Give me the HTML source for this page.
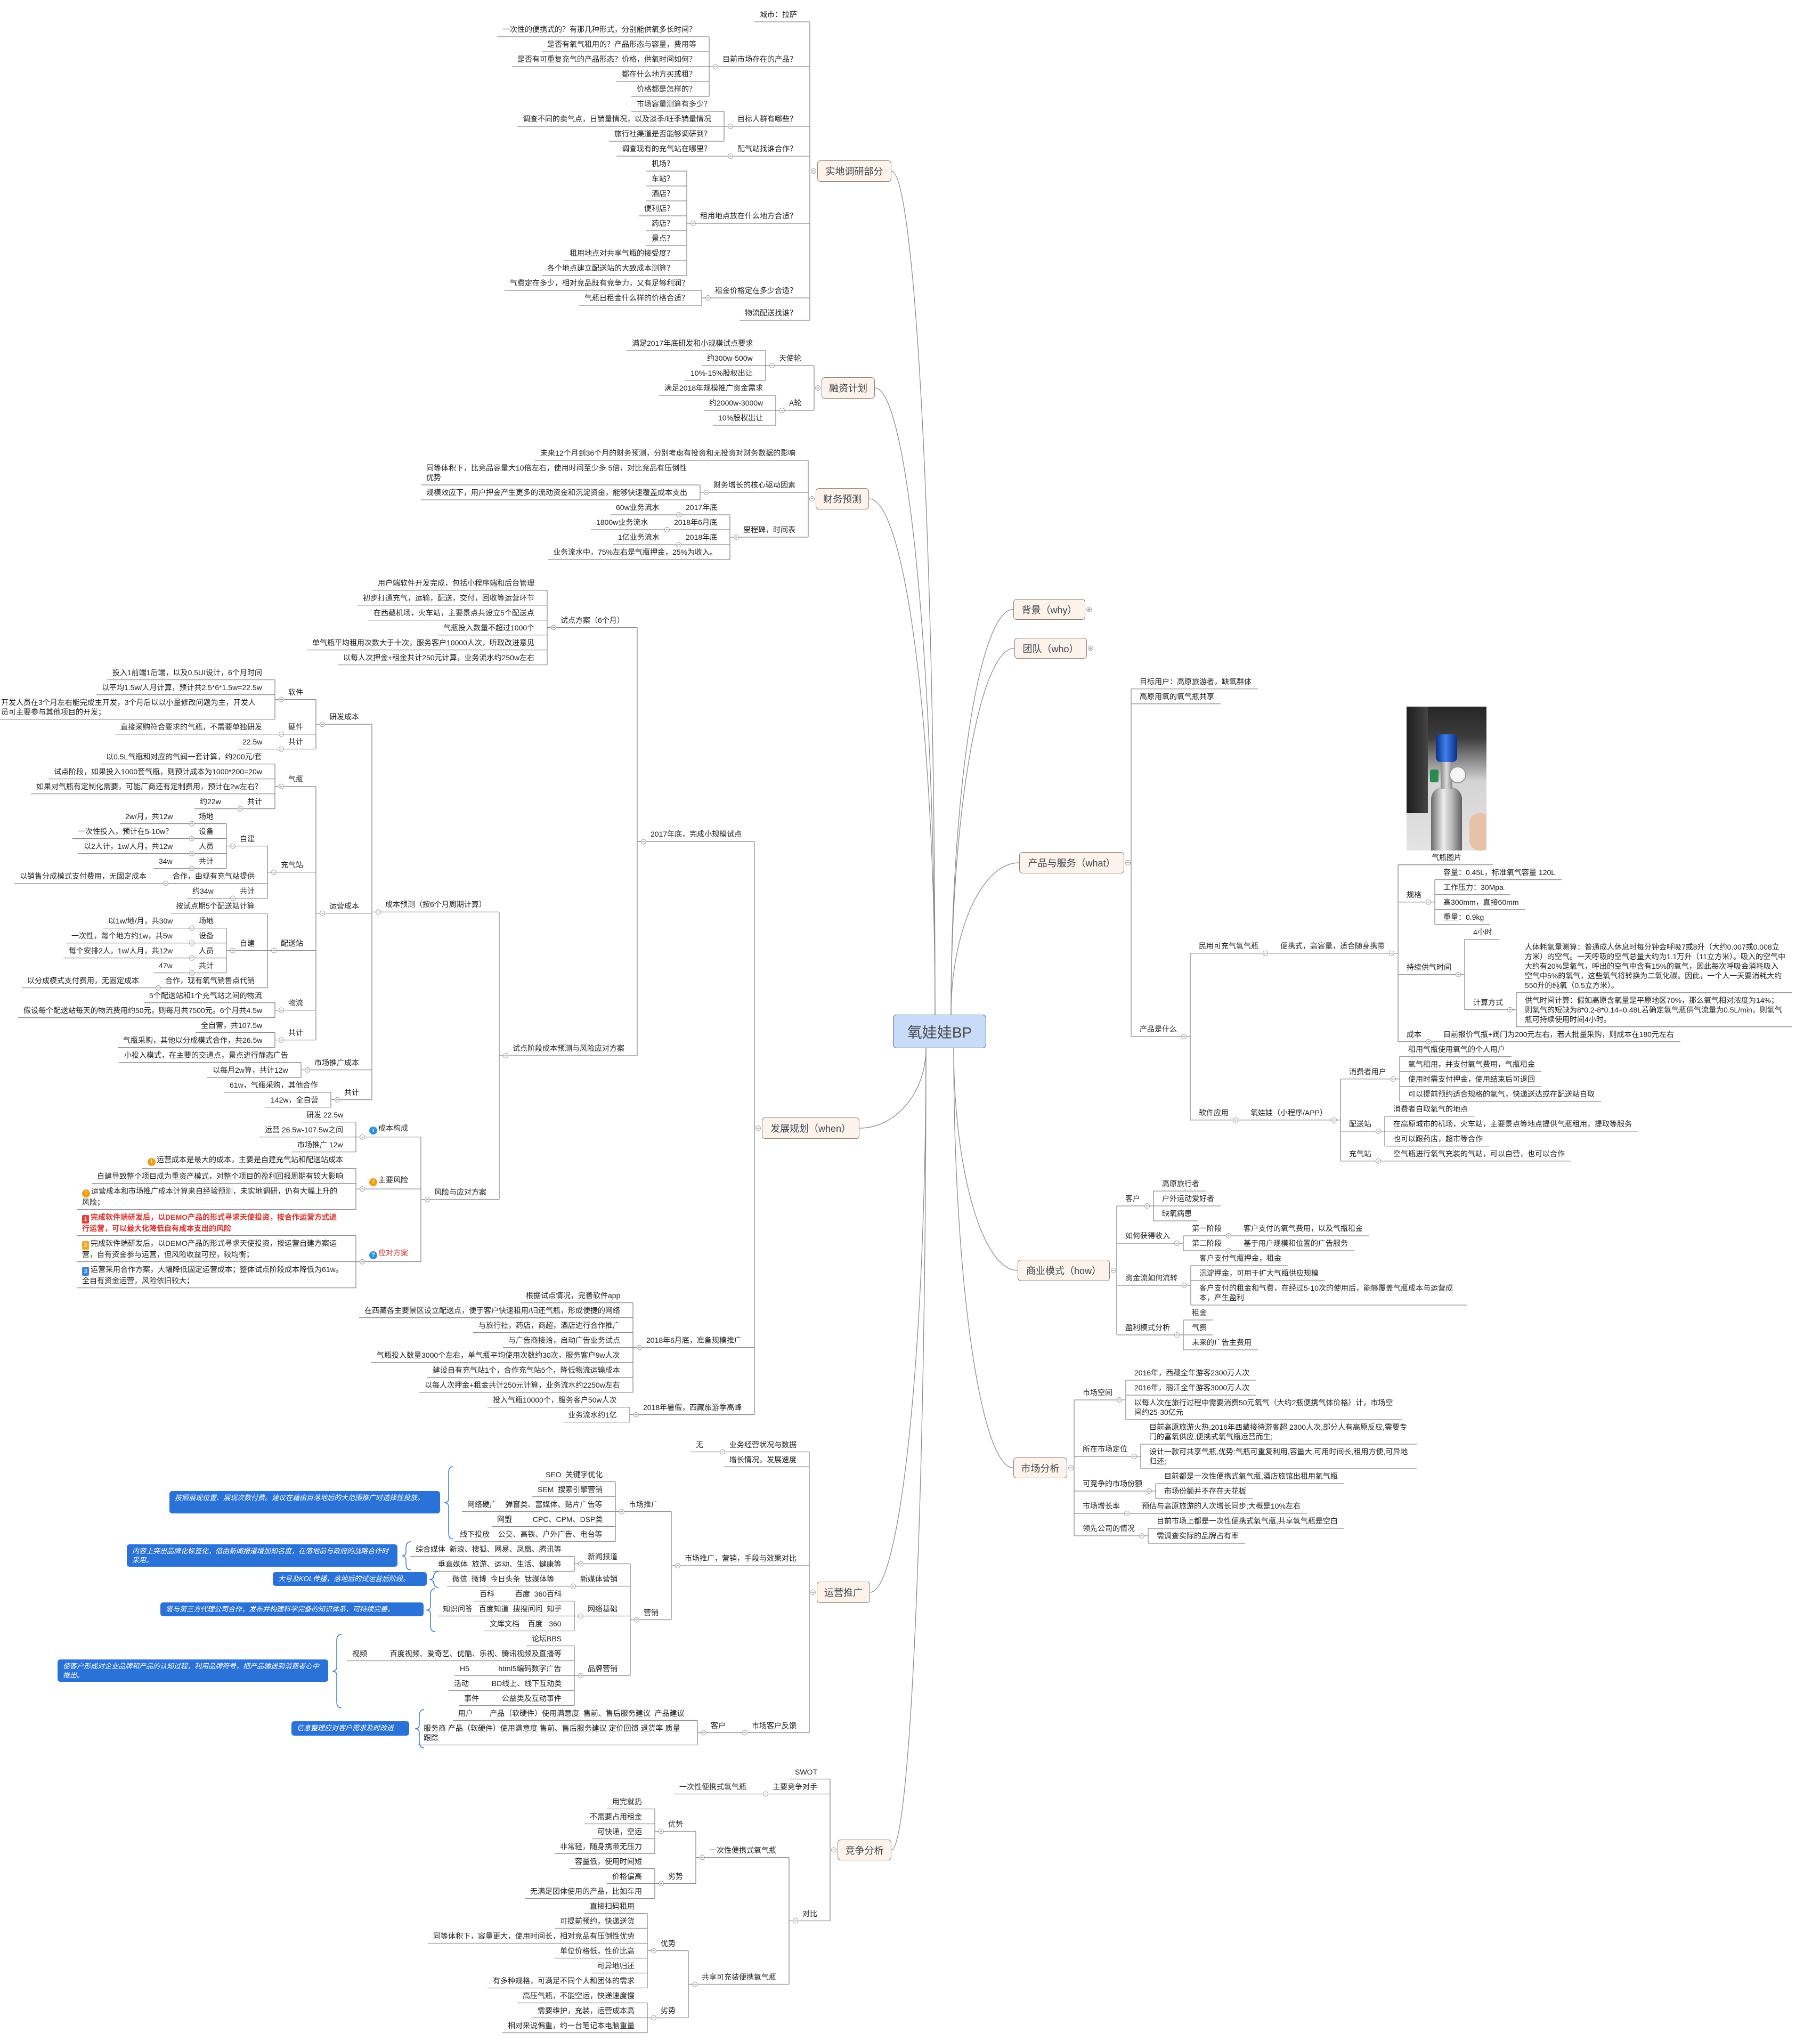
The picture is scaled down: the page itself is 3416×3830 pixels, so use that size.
<!DOCTYPE html>
<html><head><meta charset="utf-8">
<style>
body{margin:0;background:#fff}
#m{position:relative;width:3416px;height:3830px;background:#fff;overflow:hidden;font-family:"Liberation Sans","Noto Sans CJK SC",sans-serif}
#s{position:absolute;left:0;top:0}
.lb{position:absolute;left:0;top:0;font-size:14px;line-height:18px;color:#222;white-space:pre}
.bx{position:absolute;box-sizing:border-box;background:#fdf3ea;border:1.5px solid #8f8176;border-radius:6px;font-size:18px;color:#3f4652;display:flex;align-items:center;justify-content:center;white-space:nowrap}
.ctr{position:absolute;box-sizing:border-box;background:#c8dbf8;border:1.5px solid #4f6c9c;border-radius:7px;font-size:28px;color:#4a4a4a;display:flex;align-items:center;justify-content:center}
.ic{display:inline-block;width:15px;height:15px;border-radius:50%;color:#fff;font-size:11px;line-height:15px;text-align:center;font-weight:bold;margin-right:2px;vertical-align:-2px}
.ib{background:#2b8ee8}.io{background:#f39c12}
.nb{display:inline-block;width:13px;height:16px;border-radius:2px;color:#fff;font-size:11px;line-height:16px;text-align:center;margin-right:3px;vertical-align:-2px}
.co{position:absolute;box-sizing:border-box;background:#2a72d8;border-radius:5px;color:#fff;font-style:italic;font-size:13px;line-height:17px;padding:4px 10px;white-space:normal}
</style></head>
<body>
<div id="m">
<svg id="s" width="3416" height="3830" xmlns="http://www.w3.org/2000/svg"></svg>
</div>
<script>
const M=document.getElementById('m'),S=document.getElementById('s');
const NS='http://www.w3.org/2000/svg';
function sv(tag,at){const e=document.createElementNS(NS,tag);for(const k in at)e.setAttribute(k,at[k]);S.appendChild(e);return e;}
function line(x1,y1,x2,y2){sv('line',{x1,y1,x2,y2,stroke:'#8c8c8c','stroke-width':1.3});}
function circ(x,y,plus){sv('circle',{cx:x,cy:y,r:4.5,fill:'#fff',stroke:'#999','stroke-width':1});line(x-2.5,y,x+2.5,y);if(plus)line(x,y-2.5,x,y+2.5);}
const I='<span class="ic ib">i</span>',E='<span class="ic io">!</span>',Q='<span class="ic ib">?</span>';
const N1='<span class="nb" style="background:#e5423a">1</span>',N2='<span class="nb" style="background:#f5a623">2</span>',N3='<span class="nb" style="background:#3b82e0">3</span>';
const BOTTLE='<div style="width:150px;height:270px;position:relative;overflow:hidden;background:linear-gradient(#262626 0%,#3d3d3d 22%,#8e8e8e 38%,#d4d4d4 52%,#e4e4e4 100%)">'+
'<div style="position:absolute;left:0;top:0;width:40px;height:200px;background:linear-gradient(90deg,#1c1c1c,#444)"></div>'+
'<div style="position:absolute;left:46px;top:150px;width:58px;height:130px;border-radius:24px 24px 4px 4px;background:linear-gradient(90deg,#6b6b6b,#eeeeee 40%,#b0b0b0 70%,#5f5f5f)"></div>'+
'<div style="position:absolute;left:64px;top:100px;width:22px;height:55px;background:linear-gradient(90deg,#888,#ddd,#888)"></div>'+
'<div style="position:absolute;left:55px;top:52px;width:40px;height:52px;border-radius:9px;background:linear-gradient(90deg,#0b2f86,#3f7ff0 45%,#0b2f86)"></div>'+
'<div style="position:absolute;left:44px;top:118px;width:16px;height:24px;background:#2b8a4c;border-radius:3px"></div>'+
'<div style="position:absolute;left:80px;top:112px;width:28px;height:28px;border-radius:50%;background:#f5f5f5;border:2px solid #999"></div>'+
'<div style="position:absolute;left:118px;top:200px;width:40px;height:70px;border-radius:18px;background:#e8c2a8"></div></div>';

function build(n){
  let o=typeof n==='string'?{t:n,c:[]}:{t:n[0],c:(n[1]||[]).map(build)};
  let t=o.t;if(t[0]==='~'){o.wrap=1;t=t.slice(1);}if(t==='@IMG')o.img=1;o.t=t;
  const el=document.createElement('div');el.className='lb';
  if(o.img)el.innerHTML=BOTTLE+'<div style="width:150px;text-align:center;margin-top:4px">气瓶图片</div>';
  else el.innerHTML=t;
  if(o.wrap){el.style.whiteSpace='normal';el.style.width='490px';}
  M.appendChild(el);o.el=el;o.w=el.offsetWidth;o.h=el.offsetHeight;o.rh=o.h+10;return o;
}
function vl(o,top){if(!o.c.length){o.uy=top+o.rh;return o.uy;}let y=top;for(const c of o.c)y=vl(c,y);o.uy=(o.c[0].uy+o.c[o.c.length-1].uy)/2;return y;}
function sh(o,d){o.uy+=d;o.c.forEach(c=>sh(c,d));}
function hl(o,Bx,side){
  const y=o.uy;
  if(side==='R'){o.x=Bx+16;const tr=o.x+o.w;
    if(o.c.length){const bx=tr+25;line(Bx,y,bx,y);circ(tr+13,y);line(bx,o.c[0].uy,bx,o.c[o.c.length-1].uy);o.c.forEach(c=>hl(c,bx,side));}
    else line(Bx,y,tr+12,y);
  }else{const tr=Bx-24;o.x=tr-o.w;
    if(o.c.length){const bx=o.x-25;line(bx,y,Bx,y);circ(o.x-13,y);line(bx,o.c[0].uy,bx,o.c[o.c.length-1].uy);o.c.forEach(c=>hl(c,bx,side));}
    else line(o.x-10,y,Bx,y);
  }
  o.el.style.left=o.x+'px';o.el.style.top=(y-5-o.h)+'px';
}

const L=[
{t:'实地调研部分',s:'L',b:[1534,301,1673,341],c:[
 '城市：拉萨',
 ['目前市场存在的产品？',['一次性的便携式的？有那几种形式，分别能供氧多长时间？','是否有氧气租用的？产品形态与容量，费用等','是否有可重复充气的产品形态？价格，供氧时间如何？','都在什么地方买或租？','价格都是怎样的？']],
 ['目标人群有哪些？',['市场容量测算有多少？','调查不同的卖气点，日销量情况，以及淡季/旺季销量情况','旅行社渠道是否能够调研到？']],
 ['配气站找谁合作？',['调查现有的充气站在哪里？']],
 ['租用地点放在什么地方合适？',['机场？','车站？','酒店？','便利店？','药店？','景点？','租用地点对共享气瓶的接受度？','各个地点建立配送站的大致成本测算？']],
 ['租金价格定在多少合适？',['气费定在多少，相对竞品既有竞争力，又有足够利润？','气瓶日租金什么样的价格合适？']],
 '物流配送找谁？']},
{t:'融资计划',s:'L',b:[1542,708,1642,748],c:[
 ['天使轮',['满足2017年底研发和小规模试点要求','约300w-500w','10%-15%股权出让']],
 ['A轮',['满足2018年规模推广资金需求','约2000w-3000w','10%股权出让']]]},
{t:'财务预测',s:'L',b:[1531,916,1631,956],c:[
 '未来12个月到36个月的财务预测，分别考虑有投资和无投资对财务数据的影响',
 ['财务增长的核心驱动因素',['~同等体积下，比竞品容量大10倍左右，使用时间至少多 5倍，对比竞品有压倒性优势','~规模效应下，用户押金产生更多的流动资金和沉淀资金，能够快速覆盖成本支出']],
 ['里程碑，时间表',[['2017年底',['60w业务流水']],['2018年6月底',['1800w业务流水']],['2018年底',['1亿业务流水']],'业务流水中，75%左右是气瓶押金，25%为收入。']]]},
{t:'发展规划（when）',s:'L',b:[1430,2097,1613,2137],c:[
 ['2017年底，完成小规模试点',[
  ['试点方案（6个月）',['用户端软件开发完成，包括小程序端和后台管理','初步打通充气，运输，配送，交付，回收等运营环节','在西藏机场，火车站，主要景点共设立5个配送点','气瓶投入数量不超过1000个','单气瓶平均租用次数大于十次，服务客户10000人次，听取改进意见','以每人次押金+租金共计250元计算，业务流水约250w左右']],
  ['试点阶段成本预测与风险应对方案',[
   ['成本预测（按6个月周期计算）',[
    ['研发成本',[
     ['软件',['投入1前端1后端，以及0.5UI设计，6个月时间','以平均1.5w/人月计算，预计共2.5*6*1.5w=22.5w','~开发人员在3个月左右能完成主开发，3个月后以以小量修改问题为主，开发人员可主要参与其他项目的开发；']],
     ['硬件',['直接采购符合要求的气瓶，不需要单独研发']],
     ['共计',['22.5w']]]],
    ['运营成本',[
     ['气瓶',['以0.5L气瓶和对应的气阀一套计算，约200元/套','试点阶段，如果投入1000套气瓶，则预计成本为1000*200=20w','如果对气瓶有定制化需要，可能厂商还有定制费用，预计在2w左右？',['共计',['约22w']]]],
     ['充气站',[['自建',[['场地',['2w/月，共12w']],['设备',['一次性投入，预计在5-10w？']],['人员',['以2人计，1w/人月，共12w']],['共计',['34w']]]],['合作，由现有充气站提供',['以销售分成模式支付费用，无固定成本']],['共计',['约34w']]]],
     ['配送站',['按试点期5个配送站计算',['自建',[['场地',['以1w/地/月，共30w']],['设备',['一次性，每个地方约1w，共5w']],['人员',['每个安排2人，1w/人月，共12w']],['共计',['47w']]]],['合作，现有氧气销售点代销',['以分成模式支付费用，无固定成本']]]],
     ['物流',['5个配送站和1个充气站之间的物流','假设每个配送站每天的物流费用约50元，则每月共7500元。6个月共4.5w']],
     ['共计',['全自营，共107.5w','气瓶采购，其他以分成模式合作，共26.5w']]]],
    ['市场推广成本',['小投入模式，在主要的交通点，景点进行静态广告','以每月2w算，共计12w']],
    ['共计',['61w，气瓶采购，其他合作','142w，全自营']]]],
   ['风险与应对方案',[
    [I+'成本构成',['研发 22.5w','运营 26.5w-107.5w之间','市场推广 12w']],
    [E+'主要风险',[E+'运营成本是最大的成本，主要是自建充气站和配送站成本','自建导致整个项目成为重资产模式，对整个项目的盈利回报周期有较大影响','~'+E+'运营成本和市场推广成本计算来自经验预测，未实地调研，仍有大幅上升的风险；']],
    [Q+'<span style="color:#d9302c">应对方案</span>',['~'+N1+'<b style="color:#d9302c">完成软件端研发后，以DEMO产品的形式寻求天使投资，按合作运营方式进行运营，可以最大化降低自有成本支出的风险</b>','~'+N2+'完成软件端研发后，以DEMO产品的形式寻求天使投资，按运营自建方案运营，自有资金参与运营，但风险收益可控，较均衡；','~'+N3+'运营采用合作方案，大幅降低固定运营成本；整体试点阶段成本降低为61w。全自有资金运营，风险依旧较大；']]]]]]]],
 ['2018年6月底，准备规模推广',['根据试点情况，完善软件app','在西藏各主要景区设立配送点，便于客户快速租用/归还气瓶，形成便捷的网络','与旅行社，药店，商超，酒店进行合作推广','与广告商接洽，启动广告业务试点','气瓶投入数量3000个左右，单气瓶平均使用次数约30次，服务客户9w人次','建设自有充气站1个，合作充气站5个，降低物流运输成本','以每人次押金+租金共计250元计算，业务流水约2250w左右']],
 ['2018年暑假，西藏旅游季高峰',['投入气瓶10000个，服务客户50w人次','业务流水约1亿']]]},
{t:'运营推广',s:'L',b:[1533,2968,1633,3008],c:[
 ['业务经营状况与数据',['无']],
 '增长情况，发展速度',
 ['市场推广，营销，手段与效果对比',[
  ['市场推广',['SEO  关键字优化','SEM  搜索引擎营销','网络硬广    弹窗类、富媒体、贴片广告等','网盟          CPC、CPM、DSP类','线下投放    公交、高铁、户外广告、电台等']],
  ['营销',[
   ['新闻报道',['综合媒体  新浪、搜狐、网易、凤凰、腾讯等','垂直媒体  旅游、运动、生活、健康等']],
   ['新媒体营销',['微信  微博  今日头条  钛媒体等']],
   ['网络基础',['百科          百度  360百科','知识问答   百度知道  搜搜问问  知乎','文库文档    百度   360']],
   ['品牌营销',['论坛BBS','视频           百度视频、爱奇艺、优酷、乐视、腾讯视频及直播等','H5              html5编码数字广告','活动           BD线上、线下互动类','事件           公益类及互动事件']]]]]],
 ['市场客户反馈',[['客户',['用户        产品（软硬件）使用满意度  售前、售后服务建议  产品建议','~服务商      产品（软硬件）使用满意度  售前、售后服务建议  定价回馈  退货率  质量跟踪']]]]]},
{t:'竞争分析',s:'L',b:[1572,3452,1673,3491],c:[
 'SWOT',
 ['主要竞争对手',['一次性便携式氧气瓶']],
 ['对比',[
  ['一次性便携式氧气瓶',[['优势',['用完就扔','不需要占用租金','可快递，空运','非常轻，随身携带无压力']],['劣势',['容量低，使用时间短','价格偏高','无满足团体使用的产品，比如车用']]]],
  ['共享可充装便携氧气瓶',[['优势',['直接扫码租用','可提前预约，快递送货','同等体积下，容量更大，使用时间长，相对竞品有压倒性优势','单位价格低，性价比高','可异地归还','有多种规格，可满足不同个人和团体的需求']],['劣势',['高压气瓶，不能空运，快递速度慢','需要维护，充装，运营成本高','相对来说偏重，约一台笔记本电脑重量']]]]]]]},
{t:'背景（why）',s:'R',b:[1902,1124,2037,1163],c:[],col:1},
{t:'团队（who）',s:'R',b:[1904,1197,2040,1236],c:[],col:1},
{t:'产品与服务（what）',s:'R',b:[1913,1599,2110,1639],c:[
 '目标用户：高原旅游者，缺氧群体','高原用氧的氧气瓶共享',
 ['产品是什么',[
  ['民用可充气氧气瓶',[['便携式，高容量，适合随身携带',['@IMG',
    ['规格',['容量：0.45L，标准氧气容量 120L','工作压力：30Mpa','高300mm，直接60mm','重量：0.9kg']],
    ['持续供气时间',['4小时',['计算方式',['~人体耗氧量测算：普通成人休息时每分钟会呼吸7或8升（大约0.007或0.008立方米）的空气。一天呼吸的空气总量大约为1.1万升（11立方米）。吸入的空气中大约有20%是氧气，呼出的空气中含有15%的氧气，因此每次呼吸会消耗吸入空气中5%的氧气，这些氧气将转换为二氧化碳。因此，一个人一天要消耗大约550升的纯氧（0.5立方米）。','~供气时间计算：假如高原含氧量是平原地区70%，那么氧气相对浓度为14%；则氧气的短缺为8*0.2-8*0.14=0.48L若确定氧气瓶供气流量为0.5L/min，则氧气瓶可持续使用时间4小时。']]]],
    ['成本',['目前报价气瓶+阀门为200元左右，若大批量采购，则成本在180元左右']]]]]],
  ['软件应用',[['氧娃娃（小程序/APP）',[
    ['消费者用户',['租用气瓶使用氧气的个人用户','氧气租用，并支付氧气费用，气瓶租金','使用时需支付押金，使用结束后可退回','可以提前预约适合规格的氧气，快递送达或在配送站自取']],
    ['配送站',['消费者自取氧气的地点','在高原城市的机场，火车站，主要景点等地点提供气瓶租用，提取等服务','也可以跟药店，超市等合作']],
    ['充气站',['空气瓶进行氧气充装的气站，可以自营，也可以合作']]]]]]]]]},
{t:'商业模式（how）',s:'R',b:[1910,2364,2083,2404],c:[
 ['客户',['高原旅行者','户外运动爱好者','缺氧病患']],
 ['如何获得收入',[['第一阶段',['客户支付的氧气费用，以及气瓶租金']],['第二阶段',['基于用户规模和位置的广告服务']]]],
 ['资金流如何流转',['客户支付气瓶押金，租金','沉淀押金，可用于扩大气瓶供应规模','~客户支付的租金和气费，在经过5-10次的使用后，能够覆盖气瓶成本与运营成本，产生盈利']],
 ['盈利模式分析',['租金','气费','未来的广告主费用']]]},
{t:'市场分析',s:'R',b:[1902,2735,2003,2774],c:[
 ['市场空间',['2016年，西藏全年游客2300万人次','2016年，丽江全年游客3000万人次','~以每人次在旅行过程中需要消费50元氧气（大约2瓶便携气体价格）计，市场空间约25-30亿元']],
 ['所在市场定位',['~目前高原旅游火热,2016年西藏接待游客超 2300人次,部分人有高原反应,需要专门的富氧供应,便携式氧气瓶运营而生;','~设计一款可共享气瓶,优势:气瓶可重复利用,容量大,可用时间长,租用方便,可异地归还;']],
 ['可竞争的市场份额',['目前都是一次性便携式氧气瓶,酒店旅馆出租用氧气瓶','市场份额并不存在天花板']],
 ['市场增长率',['预估与高原旅游的人次增长同步;大概是10%左右']],
 ['领先公司的情况',['目前市场上都是一次性便携式氧气瓶,共享氧气瓶是空白','需调查实际的品牌占有率']]]}
];

const C=[1676,1904,1851,1967];
for(const T of L){
  const [x1,y1,x2,y2]=T.b,cy=(y1+y2)/2;
  const bx=document.createElement('div');bx.className='bx';
  bx.style.cssText+=`left:${x1}px;top:${y1}px;width:${x2-x1}px;height:${y2-y1}px`;
  bx.textContent=T.t;M.appendChild(bx);
  // curve from center
  const above=cy<C[1];
  let sx,sy,ex;
  if(T.s==='R'){sx=above?1785:1790;ex=x1;}else{sx=above?1755:1738;ex=x2;}
  sy=above?C[1]:C[3];
  const p1y=sy+(cy-sy)*0.55,p2x=ex+(sx-ex)*0.55;
  sv('path',{d:`M${sx} ${sy} C${sx} ${p1y} ${p2x} ${cy} ${ex} ${cy}`,fill:'none',stroke:'#8c8c8c','stroke-width':1.3});
  if(T.col){circ(x2+7,cy,true);continue;}
  const kids=T.c.map(build);
  let y=0;for(const k of kids)y=vl(k,y);
  const mid=(kids[0].uy+kids[kids.length-1].uy)/2;
  kids.forEach(k=>sh(k,cy-mid));
  const B=T.s==='R'?x2+13:x1-14;
  line(B,kids[0].uy,B,kids[kids.length-1].uy);
  circ(T.s==='R'?x2+7:x1-7,cy);
  kids.forEach(k=>hl(k,B,T.s));
}
const ce=document.createElement('div');ce.className='ctr';
ce.style.cssText+=`left:${C[0]}px;top:${C[1]}px;width:${C[2]-C[0]}px;height:${C[3]-C[1]}px`;
ce.textContent='氧娃娃BP';M.appendChild(ce);

// callouts and braces
function brace(x,y1,y2){const m=(y1+y2)/2;
  sv('path',{d:`M${x+9} ${y1} Q${x} ${y1} ${x} ${y1+12} L${x} ${m-8} Q${x} ${m} ${x-8} ${m} Q${x} ${m} ${x} ${m+8} L${x} ${y2-12} Q${x} ${y2} ${x+9} ${y2}`,fill:'none',stroke:'#3a7bd5','stroke-width':1.5});}
function co(x1,y1,x2,y2,t){const d=document.createElement('div');d.className='co';d.style.cssText+=`left:${x1}px;top:${y1}px;width:${x2-x1}px;height:${y2-y1}px`;d.textContent=t;M.appendChild(d);}
brace(842,2752,2888);co(318,2798,826,2840,'按照展现位置、展现次数付费。建议在藉由目落地后的大范围推广时选择性投放。');
brace(762,2893,2946);co(238,2898,746,2940,'内容上突出品牌化标签化，借由新闻报道增加知名度，在落地前与政府的战略合作时采用。');
brace(814,2949,2979);co(512,2950,801,2976,'大号及KOL传播，落地后的试运营后阶段。');
brace(808,2981,3062);co(301,3007,795,3033,'需与第三方代理公司合作，发布并构建科学完备的知识体系，可持续完善。');
brace(632,3067,3205);co(108,3114,616,3156,'使客户形成对企业品牌和产品的认知过程，利用品牌符号，把产品输送到消费者心中推出。');
brace(787,3208,3280);co(547,3230,768,3257,'信息整理应对客户需求及时改进');
</script>
</body></html>
